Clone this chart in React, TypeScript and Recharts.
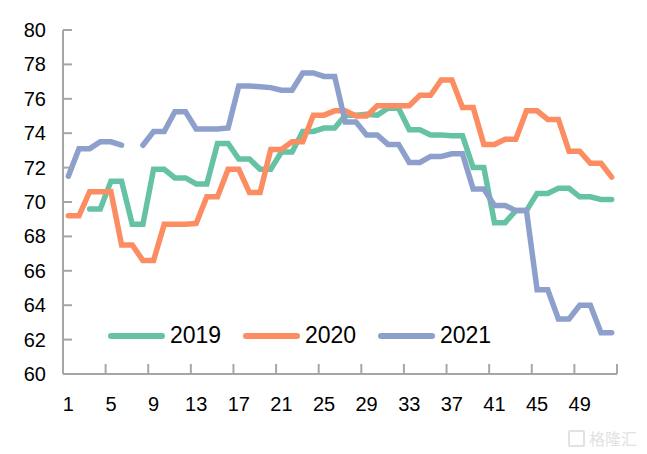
import React from 'react';
import { LineChart, Line, XAxis, YAxis, Legend } from 'recharts';

// weekly index, weeks 1..52
const weeks = [
  1, 2, 3, 4, 5, 6, 7, 8, 9, 10, 11, 12, 13, 14, 15, 16, 17, 18, 19, 20, 21, 22, 23, 24, 25, 26,
  27, 28, 29, 30, 31, 32, 33, 34, 35, 36, 37, 38, 39, 40, 41, 42, 43, 44, 45, 46, 47, 48, 49, 50, 51, 52,
];

const s2019 = [
  null, null, 69.6, 69.6, 71.2, 71.2, 68.7, 68.7, 71.9, 71.9, 71.4, 71.4, 71.05,
  71.05, 73.4, 73.4, 72.5, 72.5, 71.9, 71.9, 72.9, 72.9, 74.1, 74.1, 74.3, 74.3,
  75.05, 75.05, 75.1, 75.05, 75.45, 75.45, 74.2, 74.2, 73.9, 73.9, 73.85, 73.85, 72.0,
  72.0, 68.8, 68.8, 69.5, 69.5, 70.5, 70.5, 70.8, 70.8, 70.3, 70.3, 70.15, 70.15,
];

const s2020 = [
  69.2, 69.2, 70.6, 70.6, 70.6, 67.5, 67.5, 66.6, 66.6, 68.7, 68.7, 68.7, 68.75,
  70.3, 70.3, 71.9, 71.9, 70.55, 70.55, 73.05, 73.05, 73.5, 73.5, 75.05, 75.05, 75.3,
  75.3, 75.0, 75.0, 75.6, 75.6, 75.6, 75.6, 76.2, 76.2, 77.1, 77.1, 75.5, 75.5,
  73.35, 73.35, 73.65, 73.65, 75.3, 75.3, 74.8, 74.8, 72.95, 72.95, 72.25, 72.25, 71.45,
];

const s2021 = [
  71.5, 73.1, 73.1, 73.5, 73.5, 73.3, null, 73.3, 74.1, 74.1, 75.25, 75.25, 74.25,
  74.25, 74.25, 74.3, 76.75, 76.75, 76.7, 76.65, 76.5, 76.5, 77.5, 77.5, 77.3, 77.3,
  74.65, 74.65, 73.9, 73.9, 73.35, 73.35, 72.3, 72.3, 72.65, 72.65, 72.8, 72.8, 70.75,
  70.75, 69.8, 69.8, 69.5, 69.5, 64.9, 64.9, 63.2, 63.2, 64.0, 64.0, 62.4, 62.4,
];

const xLabelTicks = [1, 5, 9, 13, 17, 21, 25, 29, 33, 37, 41, 45, 49];
const xMarkTicks = [0.5, 4.5, 8.5, 12.5, 16.5, 20.5, 24.5, 28.5, 32.5, 36.5, 40.5, 44.5, 48.5, 52.5];
const yTicks = [60, 62, 64, 66, 68, 70, 72, 74, 76, 78, 80];

const series = [
  { key: 'y2019', name: '2019', color: '#66C2A5' },
  { key: 'y2020', name: '2020', color: '#FC8D62' },
  { key: 'y2021', name: '2021', color: '#8DA0CB' },
];

const data = weeks.map((w, i) => ({
  week: w,
  y2019: s2019[i],
  y2020: s2020[i],
  y2021: s2021[i],
}));

const FONT = '"Liberation Sans", Arial, sans-serif';
const AXIS = '#A6A6A6';

const XTick = (props: any) => {
  const { x, y, payload } = props;
  const v = payload.value;
  if (Number.isInteger(v)) {
    return (
      <text x={x} y={y + 37} textAnchor="middle" fontSize={20} fontFamily={FONT} fill="#000">
        {v}
      </text>
    );
  }
  return <line x1={x} y1={y} x2={x} y2={y - 10} stroke={AXIS} strokeWidth={2} />;
};

const YTick = (props: any) => {
  const { x, y, payload } = props;
  return (
    <g>
      <line x1={x} y1={y} x2={x + 9} y2={y} stroke={AXIS} strokeWidth={2} />
      <text x={x - 17} y={y + 7} textAnchor="end" fontSize={20} fontFamily={FONT} fill="#000">
        {payload.value}
      </text>
    </g>
  );
};

const renderLegend = () => (
  <div style={{ display: 'flex', paddingLeft: 105, fontFamily: FONT, fontSize: 23, color: '#000' }}>
    {series.map((s) => (
      <div key={s.key} style={{ display: 'flex', alignItems: 'center', width: 135 }}>
        <svg width={62} height={12}>
          <line x1={6} y1={6} x2={57} y2={6} stroke={s.color} strokeWidth={6} strokeLinecap="round" />
        </svg>
        <span style={{ marginLeft: 3 }}>{s.name}</span>
      </div>
    ))}
  </div>
);

export default function App() {
  const ticks = [...xMarkTicks, ...xLabelTicks].sort((a, b) => a - b);
  return (
    <div style={{ position: 'absolute', left: 0, top: 0, width: 647, height: 454, background: '#fff' }}>
      <LineChart width={647} height={454} data={data} margin={{ top: 30, right: 30, left: 0, bottom: 0 }}>
        <XAxis
          dataKey="week"
          type="number"
          domain={[0.5, 52.5]}
          ticks={ticks}
          interval={0}
          tickLine={false}
          tickSize={0}
          tickMargin={0}
          tick={<XTick />}
          height={80}
          stroke={AXIS}
          strokeWidth={2}
          allowDataOverflow
        />
        <YAxis
          domain={[60, 80]}
          ticks={yTicks}
          interval={0}
          tickLine={false}
          tickSize={0}
          tickMargin={0}
          tick={<YTick />}
          width={63}
          stroke={AXIS}
          strokeWidth={2}
        />
        <Legend
          content={renderLegend}
          layout="horizontal"
          verticalAlign="middle"
          align="center"
          wrapperStyle={{ left: 0, top: 322, width: 647, height: 28 }}
        />
        {series.map((s) => (
          <Line
            key={s.key}
            type="linear"
            dataKey={s.key}
            name={s.name}
            stroke={s.color}
            strokeWidth={5.5}
            strokeLinecap="round"
            dot={false}
            activeDot={false}
            isAnimationActive={false}
          />
        ))}
      </LineChart>
      <div
        style={{
          position: 'absolute',
          left: 568,
          top: 426,
          display: 'flex',
          alignItems: 'center',
          fontFamily: '"Noto Sans CJK SC", sans-serif',
          fontSize: 16,
          color: '#e2e2e2',
        }}
      >
        <span style={{ width: 13, height: 13, border: '2px solid #e2e2e2', borderRadius: 2, marginRight: 4 }} />
        <span>格隆汇</span>
      </div>
    </div>
  );
}
